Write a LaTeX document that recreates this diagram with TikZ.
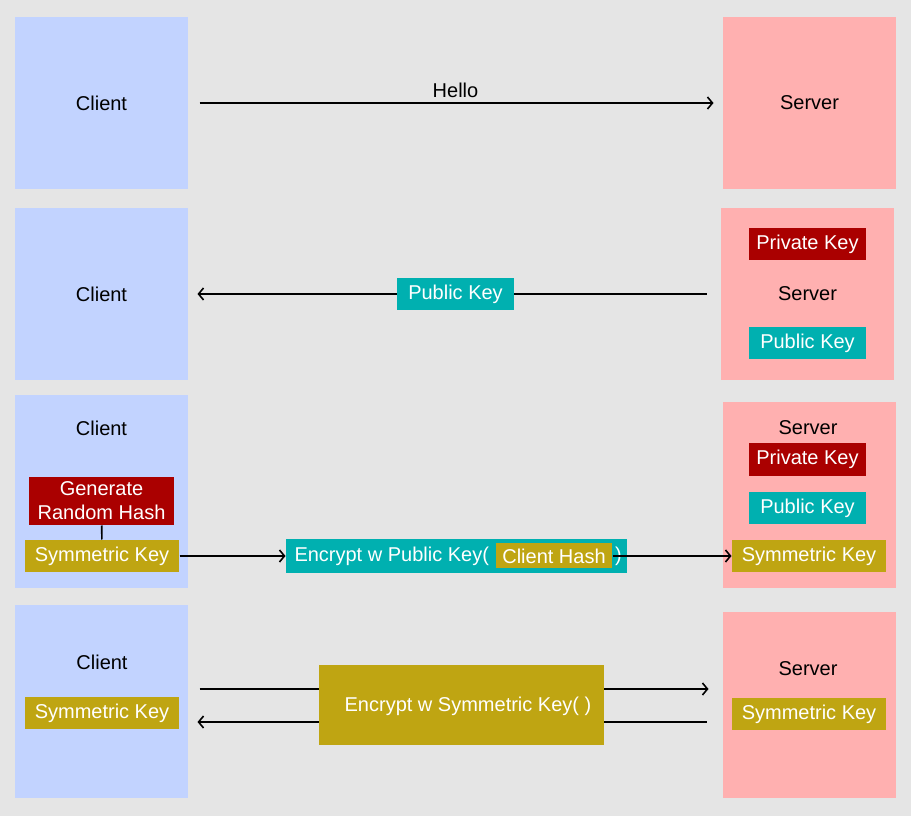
\documentclass[tikz,border=0pt]{standalone}
\usepackage{fontspec}
\setmainfont{Liberation Sans}
\usetikzlibrary{arrows.meta}

\definecolor{bggray}{RGB}{229,229,229}
\definecolor{clientblue}{RGB}{194,211,255}
\definecolor{serverpink}{RGB}{255,176,176}
\definecolor{keyred}{RGB}{170,0,0}
\definecolor{keyteal}{RGB}{0,176,176}
\definecolor{keyolive}{RGB}{191,165,18}

\tikzset{every picture/.style={line width=0.75pt}}
\tikzset{
  sz/.style 2 args={minimum width=#1*0.75pt,minimum height=#2*0.75pt},
  box/.style={inner sep=0pt,draw=none,align=center},
  clientbox/.style={box,fill=clientblue},
  serverbox/.style={box,fill=serverpink},
  redkey/.style={box,fill=keyred,text=white},
  tealkey/.style={box,fill=keyteal,text=white},
  olivekey/.style={box,fill=keyolive,text=white},
  arr/.style={line width=1.2pt,-{Straight Barb[length=3.75pt,width=9pt,line width=1.2pt]}},
  link/.style={line width=1.2pt}
}

\begin{document}
\begin{tikzpicture}[x=0.75pt,y=0.75pt,yscale=-1,xscale=1,
  every node/.style={font=\fontsize{15}{18}\selectfont}]

%Shape: Background
\fill [bggray] (0,0) rectangle (911,816);

%Row 1: Hello
\node [clientbox,sz={173}{172}] (c1) at (101.5,103) {Client};
\node [serverbox,sz={173}{172}] (s1) at (809.5,103) {Server};
\draw [arr,shorten <=8.25pt,shorten >=6.75pt] (c1) -- (s1) node [midway,above=0pt] (hello) {Hello};

%Row 2: public key sent back
\node [clientbox,sz={173}{172}] (c2) at (101.5,294) {Client};
\node [serverbox,sz={173}{172}] (s2) at (807.5,294) {Server};
\node [redkey,sz={117}{32}] (priv2) at (807.5,244) {Private Key};
\node [tealkey,sz={117}{32}] (pub2) at (807.5,343) {Public Key};
\draw [arr,shorten <=10.5pt,shorten >=6.75pt] (s2) -- (c2);
\node [tealkey,sz={117}{32}] (send2) at (455.5,294) {Public Key};

%Row 3: client hash encrypted with public key
\node [clientbox,sz={173}{193}] (c3) at (101.5,491.5) {};
\node (c3t) at (101.5,428) {Client};
\node [redkey,sz={145}{48}] (gen3) at (101.5,501) {Generate\\Random Hash};
\node [olivekey,sz={154}{32}] (sym3) at (102,556) {Symmetric Key};
\draw [link] (gen3) -- (sym3);
\node [serverbox,sz={173}{186}] (s3) at (809.5,495) {};
\node (s3t) at (808,428) {Server};
\node [redkey,sz={117}{33}] (priv3) at (807.5,459.5) {Private Key};
\node [tealkey,sz={117}{32}] (pub3) at (807.5,508) {Public Key};
\node [olivekey,sz={154}{32}] (ssym3) at (809,556) {Symmetric Key};
% Encrypted message
\node [tealkey,sz={341}{34}] (enc3) at (456.5,556) {};
\node [anchor=west,inner sep=0pt,text=white] (enc3t) at (294,556) {Encrypt w Public Key(};
\node [olivekey,sz={116}{25}] (hash3) at (554,556) {Client Hash};
\node [inner sep=0pt,text=white] (close3) at (618.5,556) {)};
\draw [arr] (sym3) -- (enc3);
\draw [arr] (hash3) -- (ssym3);

%Row 4: symmetric key traffic
\node [clientbox,sz={173}{193}] (c4) at (101.5,701.5) {};
\node (c4t) at (102,662) {Client};
\node [olivekey,sz={154}{32}] (sym4) at (102,713) {Symmetric Key};
\node [serverbox,sz={173}{186}] (s4) at (809.5,705) {};
\node (s4t) at (808,669) {Server};
\node [olivekey,sz={154}{32}] (ssym4) at (809,714) {Symmetric Key};
\coordinate (up4) at (0,689);
\coordinate (dn4) at (0,722);
\draw [arr,shorten <=8.25pt,shorten >=10.5pt] (c4.east |- up4) -- (s4.west |- up4);
\draw [arr,shorten <=12pt,shorten >=6.75pt] (s4.west |- dn4) -- (c4.east |- dn4);
\node [olivekey,sz={285}{80}] (enc4) at (461.5,705) {};
\node [text=white] (enc4t) at (468,706) {Encrypt w Symmetric Key( )};

\end{tikzpicture}
\end{document}
